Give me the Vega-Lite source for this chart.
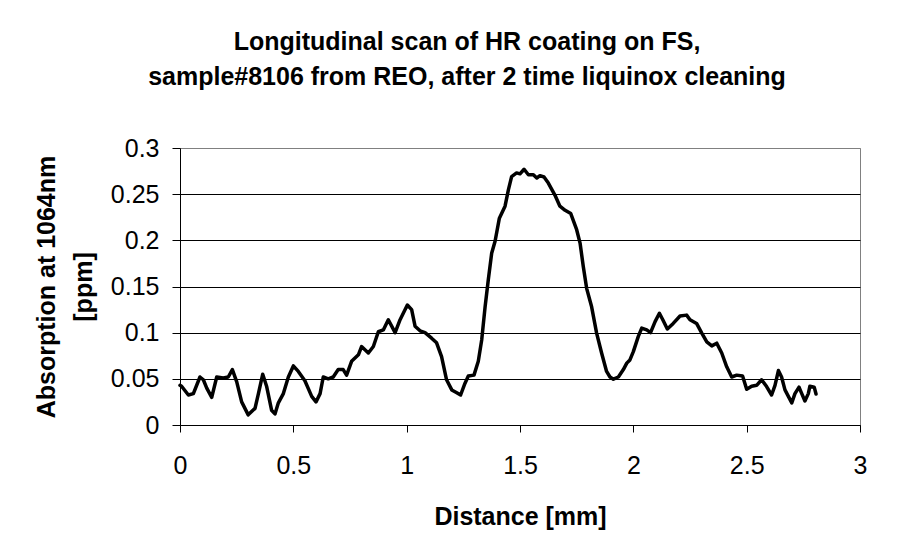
{
  "$schema": "https://vega.github.io/schema/vega-lite/v6.json",
  "width": 680,
  "height": 277,
  "autosize": "none",
  "padding": {"left": 180, "top": 148, "right": 40, "bottom": 131},
  "background": "white",
  "title": {
    "text": ["Longitudinal scan of HR coating on FS,", "sample#8106 from REO, after 2 time liquinox cleaning"],
    "font": "Liberation Sans",
    "fontSize": 25,
    "fontWeight": "bold",
    "lineHeight": 35,
    "anchor": "middle",
    "dx": -53,
    "offset": 46,
    "color": "black"
  },
  "config": {
    "view": {"stroke": "#808080", "strokeWidth": 1},
    "axis": {
      "labelFont": "Liberation Sans",
      "titleFont": "Liberation Sans",
      "labelColor": "black",
      "titleColor": "black",
      "domainColor": "black",
      "tickColor": "black",
      "labelFlush": false,
      "labelOverlap": false
    }
  },
  "data": {
    "values": [
      {"distance": 0.0, "absorption": 0.043},
      {"distance": 0.007, "absorption": 0.042},
      {"distance": 0.037, "absorption": 0.0325},
      {"distance": 0.059, "absorption": 0.034},
      {"distance": 0.088, "absorption": 0.052},
      {"distance": 0.103, "absorption": 0.049},
      {"distance": 0.118, "absorption": 0.040},
      {"distance": 0.140, "absorption": 0.030},
      {"distance": 0.162, "absorption": 0.052},
      {"distance": 0.191, "absorption": 0.051},
      {"distance": 0.213, "absorption": 0.052},
      {"distance": 0.231, "absorption": 0.060},
      {"distance": 0.250, "absorption": 0.047},
      {"distance": 0.272, "absorption": 0.025},
      {"distance": 0.301, "absorption": 0.011},
      {"distance": 0.331, "absorption": 0.018},
      {"distance": 0.346, "absorption": 0.034},
      {"distance": 0.365, "absorption": 0.055},
      {"distance": 0.382, "absorption": 0.042},
      {"distance": 0.404, "absorption": 0.016},
      {"distance": 0.419, "absorption": 0.012},
      {"distance": 0.434, "absorption": 0.024},
      {"distance": 0.456, "absorption": 0.034},
      {"distance": 0.478, "absorption": 0.052},
      {"distance": 0.500, "absorption": 0.064},
      {"distance": 0.522, "absorption": 0.058},
      {"distance": 0.551, "absorption": 0.048},
      {"distance": 0.581, "absorption": 0.031},
      {"distance": 0.600, "absorption": 0.025},
      {"distance": 0.618, "absorption": 0.034},
      {"distance": 0.632, "absorption": 0.052},
      {"distance": 0.654, "absorption": 0.050},
      {"distance": 0.676, "absorption": 0.052},
      {"distance": 0.698, "absorption": 0.060},
      {"distance": 0.720, "absorption": 0.060},
      {"distance": 0.735, "absorption": 0.054},
      {"distance": 0.757, "absorption": 0.069},
      {"distance": 0.787, "absorption": 0.076},
      {"distance": 0.801, "absorption": 0.085},
      {"distance": 0.831, "absorption": 0.078},
      {"distance": 0.853, "absorption": 0.085},
      {"distance": 0.875, "absorption": 0.101},
      {"distance": 0.897, "absorption": 0.103},
      {"distance": 0.919, "absorption": 0.114},
      {"distance": 0.949, "absorption": 0.100},
      {"distance": 0.971, "absorption": 0.114},
      {"distance": 1.003, "absorption": 0.130},
      {"distance": 1.022, "absorption": 0.125},
      {"distance": 1.037, "absorption": 0.107},
      {"distance": 1.059, "absorption": 0.102},
      {"distance": 1.081, "absorption": 0.100},
      {"distance": 1.110, "absorption": 0.094},
      {"distance": 1.132, "absorption": 0.089},
      {"distance": 1.154, "absorption": 0.074},
      {"distance": 1.176, "absorption": 0.049},
      {"distance": 1.199, "absorption": 0.038},
      {"distance": 1.221, "absorption": 0.035},
      {"distance": 1.238, "absorption": 0.0325},
      {"distance": 1.257, "absorption": 0.045},
      {"distance": 1.272, "absorption": 0.053},
      {"distance": 1.297, "absorption": 0.054},
      {"distance": 1.316, "absorption": 0.069},
      {"distance": 1.331, "absorption": 0.092},
      {"distance": 1.346, "absorption": 0.128},
      {"distance": 1.360, "absorption": 0.157},
      {"distance": 1.375, "absorption": 0.186},
      {"distance": 1.390, "absorption": 0.199},
      {"distance": 1.409, "absorption": 0.224},
      {"distance": 1.434, "absorption": 0.237},
      {"distance": 1.449, "absorption": 0.255},
      {"distance": 1.463, "absorption": 0.269},
      {"distance": 1.485, "absorption": 0.273},
      {"distance": 1.500, "absorption": 0.272},
      {"distance": 1.518, "absorption": 0.277},
      {"distance": 1.537, "absorption": 0.271},
      {"distance": 1.559, "absorption": 0.271},
      {"distance": 1.574, "absorption": 0.2675},
      {"distance": 1.588, "absorption": 0.270},
      {"distance": 1.606, "absorption": 0.2686},
      {"distance": 1.625, "absorption": 0.262},
      {"distance": 1.654, "absorption": 0.249},
      {"distance": 1.676, "absorption": 0.237},
      {"distance": 1.699, "absorption": 0.2325},
      {"distance": 1.724, "absorption": 0.229},
      {"distance": 1.750, "absorption": 0.2115},
      {"distance": 1.765, "absorption": 0.197},
      {"distance": 1.779, "absorption": 0.172},
      {"distance": 1.794, "absorption": 0.148},
      {"distance": 1.816, "absorption": 0.128},
      {"distance": 1.838, "absorption": 0.0995},
      {"distance": 1.860, "absorption": 0.078},
      {"distance": 1.882, "absorption": 0.058},
      {"distance": 1.897, "absorption": 0.052},
      {"distance": 1.912, "absorption": 0.0496},
      {"distance": 1.934, "absorption": 0.052},
      {"distance": 1.956, "absorption": 0.060},
      {"distance": 1.971, "absorption": 0.067},
      {"distance": 1.985, "absorption": 0.0705},
      {"distance": 2.000, "absorption": 0.0795},
      {"distance": 2.022, "absorption": 0.096},
      {"distance": 2.037, "absorption": 0.105},
      {"distance": 2.059, "absorption": 0.103},
      {"distance": 2.076, "absorption": 0.100},
      {"distance": 2.096, "absorption": 0.112},
      {"distance": 2.115, "absorption": 0.121},
      {"distance": 2.130, "absorption": 0.114},
      {"distance": 2.150, "absorption": 0.104},
      {"distance": 2.176, "absorption": 0.110},
      {"distance": 2.206, "absorption": 0.118},
      {"distance": 2.235, "absorption": 0.119},
      {"distance": 2.250, "absorption": 0.114},
      {"distance": 2.279, "absorption": 0.110},
      {"distance": 2.302, "absorption": 0.0995},
      {"distance": 2.324, "absorption": 0.090},
      {"distance": 2.346, "absorption": 0.0857},
      {"distance": 2.368, "absorption": 0.0886},
      {"distance": 2.390, "absorption": 0.078},
      {"distance": 2.412, "absorption": 0.063},
      {"distance": 2.434, "absorption": 0.052},
      {"distance": 2.456, "absorption": 0.054},
      {"distance": 2.482, "absorption": 0.053},
      {"distance": 2.500, "absorption": 0.0387},
      {"distance": 2.522, "absorption": 0.042},
      {"distance": 2.544, "absorption": 0.043},
      {"distance": 2.566, "absorption": 0.049},
      {"distance": 2.588, "absorption": 0.0416},
      {"distance": 2.610, "absorption": 0.0325},
      {"distance": 2.625, "absorption": 0.043},
      {"distance": 2.640, "absorption": 0.059},
      {"distance": 2.654, "absorption": 0.052},
      {"distance": 2.669, "absorption": 0.038},
      {"distance": 2.684, "absorption": 0.031},
      {"distance": 2.699, "absorption": 0.024},
      {"distance": 2.713, "absorption": 0.034},
      {"distance": 2.731, "absorption": 0.041},
      {"distance": 2.743, "absorption": 0.034},
      {"distance": 2.757, "absorption": 0.026},
      {"distance": 2.772, "absorption": 0.034},
      {"distance": 2.779, "absorption": 0.042},
      {"distance": 2.798, "absorption": 0.041},
      {"distance": 2.806, "absorption": 0.0336}
    ]
  },
  "mark": {"type": "line", "color": "black", "strokeWidth": 3.5, "strokeJoin": "round", "strokeCap": "round"},
  "encoding": {
    "x": {
      "field": "distance",
      "type": "quantitative",
      "scale": {"domain": [0, 3], "nice": false, "zero": false},
      "axis": {
        "values": [0, 0.5, 1, 1.5, 2, 2.5, 3],
        "format": "~g",
        "grid": false,
        "tickSize": 7,
        "labelFontSize": 25,
        "labelPadding": 21,
        "title": "Distance [mm]",
        "titleFontSize": 25,
        "titleFontWeight": "bold",
        "titlePadding": 26
      }
    },
    "y": {
      "field": "absorption",
      "type": "quantitative",
      "scale": {"domain": [0, 0.3], "nice": false},
      "axis": {
        "values": [0, 0.05, 0.1, 0.15, 0.2, 0.25, 0.3],
        "format": "~g",
        "grid": true,
        "gridColor": {"condition": {"test": "datum.value > 0.29", "value": "#808080"}, "value": "black"},
        "gridWidth": 1,
        "tickSize": 8,
        "labelFontSize": 25,
        "labelPadding": 13,
        "title": ["Absorption at 1064nm", "[ppm]"],
        "titleFontSize": 25,
        "titleFontWeight": "bold",
        "titleLineHeight": 37,
        "titlePadding": 14
      }
    }
  }
}
